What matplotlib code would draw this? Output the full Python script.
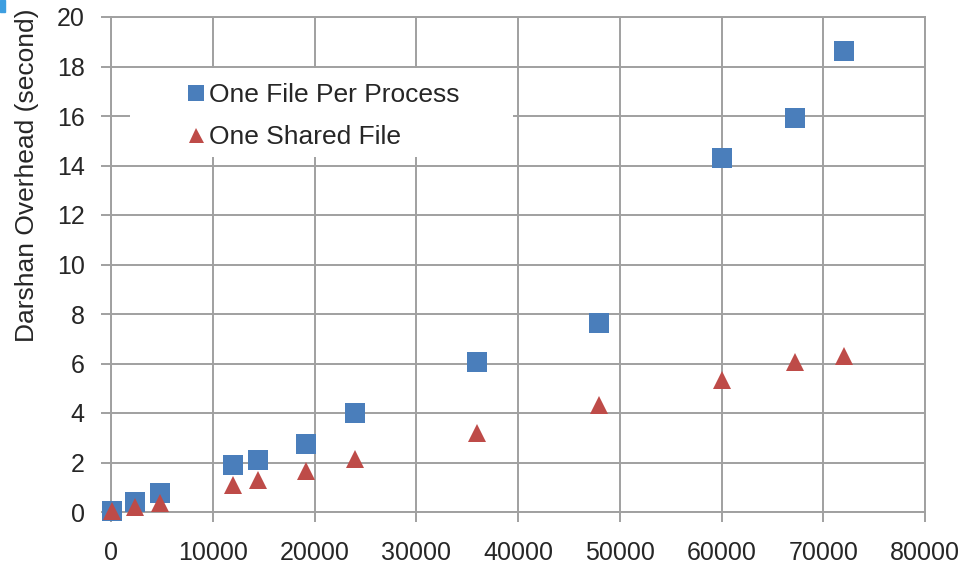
import matplotlib.pyplot as plt
from matplotlib.patches import Rectangle

plt.rcParams['font.family'] = ['Liberation Sans', 'DejaVu Sans']

# number of processes
procs = [100, 2400, 4800, 12000, 14400, 19200, 24000, 36000, 48000, 60000, 67200, 72000]
# overhead in seconds
per_process = [0.05, 0.4, 0.75, 1.9, 2.1, 2.73, 3.99, 6.07, 7.62, 14.3, 15.93, 18.63]
shared = [0.03, 0.2, 0.37, 1.09, 1.3, 1.67, 2.13, 3.18, 4.32, 5.33, 6.07, 6.32]

blue = '#4a7ebb'
red = '#be4b48'
grid_col = '#a0a0a0'
W, H = 971, 570

fig = plt.figure(figsize=(9.71, 5.70), dpi=100)
ax = fig.add_axes([111 / W, 1 - 512 / H, (925 - 111) / W, (512 - 17) / H])

ax.plot(procs, per_process, 's', color=blue, markersize=13.8, markeredgewidth=0,
        label='One File Per Process', zorder=3, clip_on=False)
ax.plot(procs, shared, '^', color=red, markersize=13.5, markeredgewidth=0,
        label='One Shared File', zorder=3, clip_on=False)

ax.set_xlim(0, 80000)
ax.set_ylim(0, 20)
ax.set_xticks(range(0, 80001, 10000))
ax.set_yticks(range(0, 21, 2))
ax.grid(True, color=grid_col, linewidth=1.4, zorder=0)
ax.set_axisbelow(True)
for s in ax.spines.values():
    s.set_color(grid_col)
    s.set_linewidth(1.4)
ax.tick_params(axis='both', colors=grid_col, labelcolor='#262626', labelsize=18,
               length=7, width=1.4)
ax.tick_params(axis='y', pad=12)
ax.tick_params(axis='x', pad=14)

fig.text(27 / W, 1 - 175 / H, 'Darshan Overhead (second)', rotation=90,
         fontsize=19, color='#262626', ha='center', va='center')

# white box behind the legend, hiding the gridlines
ax.add_patch(Rectangle((130 / W, 1 - 157 / H), (513 - 130) / W, (157 - 68) / H,
                       transform=fig.transFigure, facecolor='white',
                       edgecolor='none', zorder=1))

leg = ax.legend(loc='upper left', bbox_to_anchor=(189.5 / W, 1 - 83 / H),
                bbox_transform=fig.transFigure, fontsize=19, frameon=False,
                handlelength=0.5, handletextpad=0.24, markerscale=0.8,
                labelspacing=0.7, borderpad=0, borderaxespad=0)
for t in leg.get_texts():
    t.set_color('#262626')

# small blue mark in the top-left corner of the source image
fig.patches.append(Rectangle((0, 1 - 12 / H), 5 / W, 12 / H,
                             transform=fig.transFigure, color='#3d9ee0'))

fig.savefig('out.png', dpi=100)
